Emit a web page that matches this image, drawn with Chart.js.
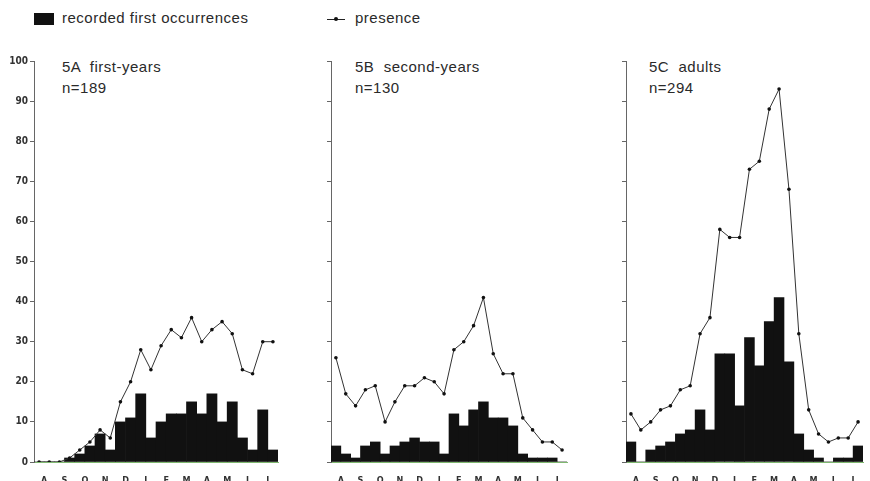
<!DOCTYPE html>
<html>
<head>
<meta charset="utf-8">
<script src="https://cdn.jsdelivr.net/npm/chart.js@4"></script>
<style>
  body { margin: 0; background: #fff; width: 870px; height: 481px; position: relative; overflow: hidden;
         font-family: "Liberation Sans", Arial, sans-serif; color: #2a2a2a; }
  .box { position: absolute; }
  .lbl { position: absolute; font-size: 15px; letter-spacing: 0.5px; white-space: pre; }
</style>
</head>
<body>
<!-- legend -->
<div class="box" style="left:34px;top:13px;width:20px;height:12px;background:#111;"></div>
<div class="lbl" style="left:62px;top:9px;">recorded first occurrences</div>
<div class="box" style="left:327px;top:19px;width:18px;height:1px;background:#222;"></div>
<div class="box" style="left:334px;top:17px;width:4px;height:4px;border-radius:2px;background:#111;"></div>
<div class="lbl" style="left:355px;top:9px;">presence</div>

<!-- panel titles -->
<div class="lbl" style="left:62px;top:58px;">5A  first-years</div>
<div class="lbl" style="left:62px;top:79px;">n=189</div>
<div class="lbl" style="left:355px;top:58px;">5B  second-years</div>
<div class="lbl" style="left:355px;top:79px;">n=130</div>
<div class="lbl" style="left:649px;top:58px;">5C  adults</div>
<div class="lbl" style="left:649px;top:79px;">n=294</div>

<canvas id="chartA" class="box" style="left:0px;top:51px;" width="282" height="430"></canvas>
<canvas id="chartB" class="box" style="left:325px;top:51px;" width="246" height="430"></canvas>
<canvas id="chartC" class="box" style="left:620px;top:51px;" width="247" height="430"></canvas>

<script>
const months = ["A", "S", "O", "N", "D", "J", "F", "M", "A", "M", "J", "J"];
// two half-month bins per month
const bins = months.flatMap((m, i) => [m + i + "a", m + i + "b"]);
const yTicks = [0, 10, 20, 30, 40, 50, 60, 70, 80, 90, 100];

const firstYearsFirst = [0, 0, 0, 1, 2, 4, 7, 3, 10, 11, 17, 6, 10, 12, 12, 15, 12, 17, 10, 15, 6, 3, 13, 3];
const firstYearsPresence = [0, 0, 0, 1, 3, 5, 8, 6, 15, 20, 28, 23, 29, 33, 31, 36, 30, 33, 35, 32, 23, 22, 30, 30];

const secondYearsFirst = [4, 2, 1, 4, 5, 2, 4, 5, 6, 5, 5, 2, 12, 9, 13, 15, 11, 11, 9, 2, 1, 1, 1, 0];
const secondYearsPresence = [26, 17, 14, 18, 19, 10, 15, 19, 19, 21, 20, 17, 28, 30, 34, 41, 27, 22, 22, 11, 8, 5, 5, 3];

const adultsFirst = [5, 0, 3, 4, 5, 7, 8, 13, 8, 27, 27, 14, 31, 24, 35, 41, 25, 7, 3, 1, 0, 1, 1, 4];
const adultsPresence = [12, 8, 10, 13, 14, 18, 19, 32, 36, 58, 56, 56, 73, 75, 88, 93, 68, 32, 13, 7, 5, 6, 6, 10];

const tickFont = { family: "'DejaVu Sans Condensed', 'Liberation Sans Narrow', Arial, sans-serif", size: 10, weight: "bold" };

function makePanel(id, first, presence, showLabels, axisWidth) {
  const ctx = document.getElementById(id).getContext("2d");
  return new Chart(ctx, {
    data: {
      labels: bins,
      datasets: [
        {
          type: "line",
          label: "presence",
          data: presence,
          borderColor: "#333",
          borderWidth: 1,
          pointRadius: 1.8,
          pointBackgroundColor: "#111",
          pointBorderWidth: 0,
          tension: 0,
          order: 0,
        },
        {
          type: "bar",
          label: "recorded first occurrences",
          data: first,
          backgroundColor: "#111",
          barPercentage: 1,
          categoryPercentage: 1,
          order: 1,
        },
      ],
    },
    options: {
      responsive: false,
      animation: false,
      layout: { padding: { top: 10, right: 0, left: 0, bottom: 0 } },
      plugins: { legend: { display: false }, tooltip: { enabled: false } },
      scales: {
        x: { type: "category", display: false, offset: true },
        m: {
          type: "category",
          labels: months,
          position: "bottom",
          offset: true,
          grid: { display: false },
          border: { color: "#7fb870", width: 1 },
          ticks: { font: { ...tickFont, size: 9 }, color: "#333", padding: 5, maxRotation: 0, autoSkip: false },
          afterFit: (axis) => { axis.height = 19; },
        },
        y: {
          min: 0,
          max: 100,
          afterBuildTicks: (axis) => { axis.ticks = yTicks.map((v) => ({ value: v })); },
          grid: { drawOnChartArea: false, tickLength: 4, color: "#666" },
          border: { color: "#666", width: 1 },
          ticks: { display: showLabels, font: tickFont, color: "#333", padding: 2 },
          afterFit: (axis) => { axis.width = axisWidth; },
        },
      },
    },
  });
}

makePanel("chartA", firstYearsFirst, firstYearsPresence, true, 34);
makePanel("chartB", secondYearsFirst, secondYearsPresence, false, 6);
makePanel("chartC", adultsFirst, adultsPresence, false, 6);
</script>
</body>
</html>
